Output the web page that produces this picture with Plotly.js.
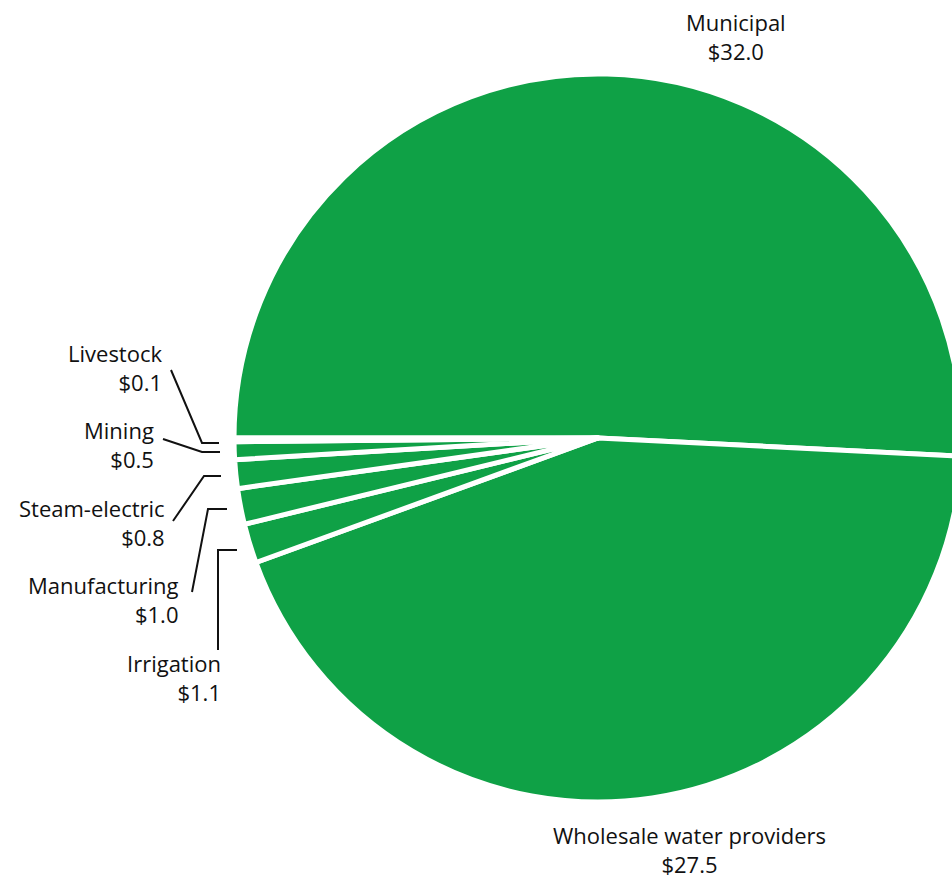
<!DOCTYPE html>
<html><head><meta charset="utf-8">
<script src="https://cdn.plot.ly/plotly-3.0.1.min.js"></script>
<style>html,body{margin:0;padding:0;overflow:hidden;background:#fff}#chart{width:1000px;height:881px}</style>
</head><body><div id="chart"></div><script>
// Data
const categories = ['Municipal', 'Wholesale water providers', 'Irrigation', 'Manufacturing', 'Steam-electric', 'Mining', 'Livestock'];
const values = [32.0, 27.5, 1.1, 1.0, 0.8, 0.5, 0.1];
const valuePrefix = '$';

// Layout geometry (pixels)
const W = 1000, H = 881;
const CX = 598, CY = 438, R = 364;
const M = {l: CX - R, t: CY - R, r: W - (CX + R), b: H - (CY + R)};
const px = x => (x - M.l) / (2 * R);
const py = y => 1 - (y - M.t) / (2 * R);

// Label placement (pixels): text anchor and leader-line path
const labelPlacement = {
  'Municipal':                 {x: 736, y: 37,  xanchor: 'center', align: 'center', path: null},
  'Wholesale water providers': {x: 689, y: 849, xanchor: 'center', align: 'center', path: null},
  'Irrigation':     {x: 223, y: 677, xanchor: 'right', align: 'right', path: [[218, 650], [218, 550], [237, 550]]},
  'Manufacturing':  {x: 181, y: 599, xanchor: 'right', align: 'right', path: [[192, 592], [208, 509], [227, 509]]},
  'Steam-electric': {x: 167, y: 522, xanchor: 'right', align: 'right', path: [[173, 521], [204, 476], [221, 476]]},
  'Mining':         {x: 156, y: 444, xanchor: 'right', align: 'right', path: [[163, 439], [202, 452], [220, 452]]},
  'Livestock':      {x: 164, y: 367, xanchor: 'right', align: 'right', path: [[171, 370], [202, 443], [219, 443]]}
};

const FONT = '"Open Sans", Lato, sans-serif';
const annotations = [];
const shapes = [];
categories.forEach((c, i) => {
  const p = labelPlacement[c];
  annotations.push({
    xref: 'paper', yref: 'paper', x: px(p.x), y: py(p.y),
    xanchor: p.xanchor, yanchor: 'middle', align: p.align, showarrow: false,
    text: c + '<br>' + valuePrefix + values[i].toFixed(1),
    font: {family: FONT, size: 22, color: '#111'}
  });
  if (p.path) {
    const d = p.path.map((pt, k) => (k ? 'L' : 'M') + px(pt[0]) + ',' + py(pt[1])).join(' ');
    shapes.push({type: 'path', xref: 'paper', yref: 'paper', path: d, line: {color: '#111', width: 2}});
  }
});

const trace = {
  type: 'pie',
  labels: categories,
  values: values,
  sort: false,
  direction: 'clockwise',
  rotation: 270,
  textinfo: 'none',
  hoverinfo: 'none',
  marker: {colors: categories.map(() => '#0FA146'), line: {color: '#ffffff', width: 5}},
  domain: {x: [0, 1], y: [0, 1]}
};

Plotly.newPlot('chart', [trace], {
  width: W, height: H, autosize: false,
  margin: M,
  showlegend: false,
  paper_bgcolor: '#fff',
  annotations: annotations,
  shapes: shapes
}, {displayModeBar: false, staticPlot: true});
</script></body></html>
